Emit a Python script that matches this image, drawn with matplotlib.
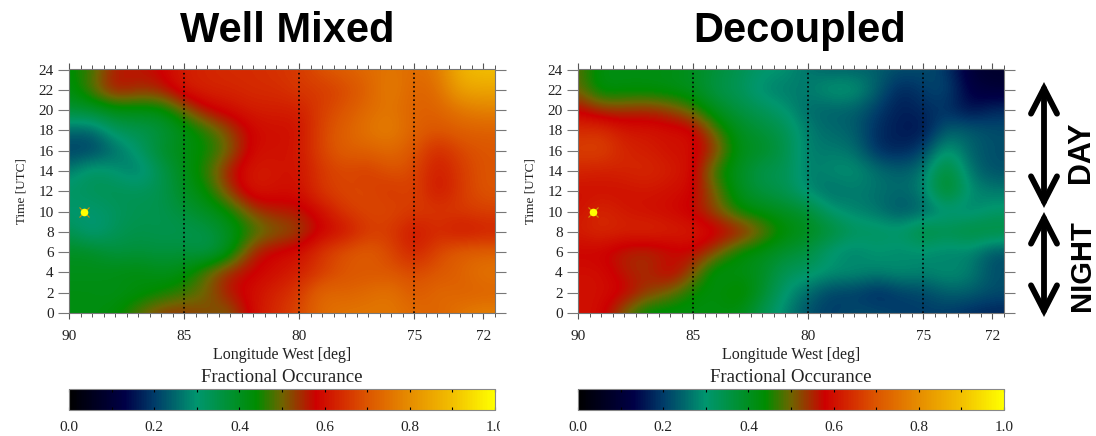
import numpy as np
import matplotlib
matplotlib.use('Agg')
import matplotlib.pyplot as plt
from matplotlib.colors import LinearSegmentedColormap, Normalize
from matplotlib.cm import ScalarMappable
from matplotlib.patches import FancyArrowPatch
from matplotlib.ticker import MultipleLocator
from matplotlib.transforms import Bbox

lons = [90,89,88,87,86,85,84,83,82,81,80,79,78,77,76,75,74,73,72]
times = [24,22,20,18,16,14,12,10,8,6,4,2,0]
xtick_labels = [90,85,80,75,72]
cbar_ticks = [0.0,0.2,0.4,0.6,0.8,1.0]

# one row per time, 24 UTC at the top
well_mixed = [
    [.43,.47,.56,.56,.58,.62,.63,.64,.64,.65,.66,.70,.72,.74,.76,.74,.76,.88,.90],
    [.42,.49,.58,.55,.56,.62,.63,.63,.64,.64,.66,.66,.68,.72,.78,.72,.74,.85,.85],
    [.38,.39,.42,.42,.42,.50,.58,.60,.62,.62,.62,.67,.70,.74,.76,.72,.72,.76,.78],
    [.25,.24,.33,.34,.36,.41,.46,.53,.59,.60,.60,.68,.72,.76,.78,.72,.70,.72,.72],
    [.20,.20,.25,.31,.39,.42,.44,.50,.60,.60,.61,.68,.72,.72,.74,.70,.63,.68,.70],
    [.27,.33,.30,.26,.34,.41,.47,.57,.62,.61,.60,.66,.68,.66,.70,.68,.61,.66,.70],
    [.32,.33,.34,.33,.34,.40,.44,.54,.62,.60,.60,.66,.68,.68,.65,.68,.60,.66,.70],
    [.30,.30,.32,.34,.34,.37,.40,.44,.53,.56,.56,.60,.66,.68,.68,.66,.66,.66,.67],
    [.34,.28,.33,.35,.34,.34,.35,.40,.46,.50,.52,.58,.60,.66,.66,.60,.64,.60,.62],
    [.40,.40,.36,.37,.36,.37,.34,.41,.56,.59,.60,.66,.70,.72,.68,.62,.68,.72,.72],
    [.41,.41,.42,.43,.41,.42,.50,.56,.58,.60,.62,.66,.70,.70,.70,.68,.70,.72,.76],
    [.42,.42,.41,.42,.44,.47,.50,.57,.60,.63,.66,.74,.72,.74,.76,.70,.74,.72,.72],
    [.42,.42,.43,.49,.54,.54,.52,.50,.60,.64,.68,.74,.76,.76,.76,.74,.72,.76,.78],
]
decoupled = [
    [.49,.42,.42,.42,.42,.40,.37,.34,.31,.30,.26,.24,.24,.24,.22,.22,.20,.10,.08],
    [.50,.41,.42,.42,.41,.40,.35,.33,.28,.27,.27,.31,.31,.24,.17,.20,.22,.12,.10],
    [.58,.54,.54,.55,.53,.48,.40,.36,.33,.30,.25,.24,.24,.20,.16,.18,.19,.14,.18],
    [.64,.65,.61,.61,.60,.60,.48,.40,.37,.34,.27,.25,.24,.18,.16,.15,.24,.24,.22],
    [.67,.68,.63,.62,.60,.60,.54,.41,.40,.35,.27,.27,.26,.18,.17,.20,.32,.24,.22],
    [.63,.62,.63,.64,.62,.60,.45,.40,.34,.34,.27,.29,.30,.26,.24,.26,.40,.26,.22],
    [.60,.60,.60,.61,.60,.59,.50,.40,.36,.34,.28,.25,.27,.26,.25,.27,.42,.29,.27],
    [.60,.64,.61,.60,.59,.57,.52,.44,.42,.40,.38,.30,.28,.26,.22,.24,.28,.27,.31],
    [.62,.64,.63,.64,.63,.62,.60,.58,.51,.44,.41,.38,.33,.33,.32,.38,.35,.38,.37],
    [.58,.58,.55,.54,.56,.58,.52,.43,.41,.38,.36,.29,.27,.30,.28,.29,.27,.28,.22],
    [.60,.60,.56,.54,.60,.52,.40,.42,.40,.33,.32,.30,.30,.28,.30,.28,.30,.28,.22],
    [.60,.60,.59,.54,.50,.44,.42,.47,.39,.30,.25,.20,.20,.17,.20,.21,.24,.24,.22],
    [.60,.60,.50,.42,.42,.42,.42,.42,.34,.28,.22,.20,.22,.22,.20,.20,.20,.18,.17],
]

W, H = 1096, 436
SERIF = 'Liberation Serif'
SANS = 'Liberation Sans'
INK = '#222222'

cmap = LinearSegmentedColormap.from_list('frac', [
    (0.00, (0, 0, 0)), (0.13, (0, 0, 70/255)), (0.20, (0, 60/255, 105/255)),
    (0.30, (0, 150/255, 110/255)), (0.44, (0, 140/255, 0)),
    (0.50, (110/255, 100/255, 0)), (0.58, (205/255, 0, 0)),
    (0.70, (220/255, 85/255, 0)), (0.80, (230/255, 140/255, 0)),
    (0.90, (242/255, 190/255, 0)), (1.00, (1, 1, 0))])
norm = Normalize(0, 1)


def box(x0, y0, x1, y1):
    # pixel box (top-left origin) to figure fraction
    return [x0/W, 1-y1/H, (x1-x0)/W, (y1-y0)/H]


def panel(fig, left, right, values):
    ax = fig.add_axes(box(left, 69.5, right, 313))
    ax.imshow(np.array(values), cmap=cmap, norm=norm, aspect='auto',
              interpolation='bicubic', origin='upper',
              extent=(lons[0]+.5, lons[-1]-.5, times[-1]-1, times[0]+1))
    ax.set_xlim(90, 71.5)
    ax.set_ylim(0, 24)
    for lon in [90, 85, 80, 75]:
        ax.axvline(lon, color='black', ls=':', lw=1.2)
    ax.set_xticks(xtick_labels)
    ax.set_xticklabels(xtick_labels, family=SERIF, fontsize=11, color=INK)
    ax.xaxis.set_minor_locator(MultipleLocator(0.5))
    ax.set_yticks(times)
    ax.set_yticklabels(times, family=SERIF, fontsize=11, color=INK)
    ax.tick_params(axis='x', which='major', top=True, length=4, width=.8, color='#555555', pad=8)
    ax.tick_params(axis='x', which='minor', top=True, length=3, width=.7, color='#555555')
    ax.tick_params(axis='y', which='major', right=True, length=8, width=.8, color='#777777', pad=3)
    for s in ax.spines.values():
        s.set_color('#777777')
        s.set_linewidth(.8)
    ax.set_xlabel('Longitude West [deg]', family=SERIF, fontsize=11.5, color=INK, labelpad=3)
    ax.set_ylabel('Time [UTC]', family=SERIF, fontsize=9.5, color=INK, labelpad=8)
    # yellow sun marker
    ax.plot([89.33], [10], marker='x', ms=7, mew=.8, color='#d09000', clip_on=False)
    ax.plot([89.33], [10], marker='o', ms=5.5, mew=0, color='#ffff00')
    return ax


def cbar(fig, left, right, clip_last):
    cax = fig.add_axes(box(left, 389, right, 410))
    cb = fig.colorbar(ScalarMappable(norm=norm, cmap=cmap), cax=cax, orientation='horizontal')
    cb.set_ticks(cbar_ticks)
    cb.set_ticklabels(['%.1f' % t for t in cbar_ticks], family=SERIF, fontsize=11, color=INK)
    cax.xaxis.set_minor_locator(MultipleLocator(0.1))
    cax.tick_params(which='both', direction='in', top=True, bottom=True, length=2.5, width=.8, color='black', pad=8)
    cb.outline.set_edgecolor('#888888')
    cb.outline.set_linewidth(.8)
    fig.text((left+right)/2/W, 1-377/H, 'Fractional Occurance', family=SERIF, fontsize=13.5,
             color=INK, ha='center', va='center')
    if clip_last:
        # the last label is cut off in the source figure
        lab = cax.get_xticklabels()[-1]
        lab.set_clip_on(True)
        lab.set_clip_box(Bbox([[0, 0], [500, H]]))


def arrow(fig, x, y0, y1):
    a = FancyArrowPatch((x/W, 1-y0/H), (x/W, 1-y1/H), transform=fig.transFigure,
                        arrowstyle='<->,head_length=0.7,head_width=0.36', mutation_scale=26,
                        lw=4.2, color='black', shrinkA=0, shrinkB=0, joinstyle='miter')
    fig.add_artist(a)


fig = plt.figure(figsize=(W/100, H/100), dpi=100)
panel(fig, 69, 495, well_mixed)
panel(fig, 578, 1004, decoupled)
cbar(fig, 69, 495, True)
cbar(fig, 578, 1004, False)

fig.text(287/W, 1-31/H, 'Well Mixed', family=SANS, weight='bold', fontsize=30, ha='center', va='center')
fig.text(800/W, 1-31/H, 'Decoupled', family=SANS, weight='bold', fontsize=30, ha='center', va='center')
arrow(fig, 1044, 82, 208)
arrow(fig, 1044, 212, 317)
fig.text(1081/W, 1-152/H, 'DAY', family=SANS, weight='bold', fontsize=22, rotation=90, ha='center', va='center')
fig.text(1082/W, 1-266/H, 'NIGHT', family=SANS, weight='bold', fontsize=21, rotation=90, ha='center', va='center')

fig.savefig('out.png', dpi=100)
